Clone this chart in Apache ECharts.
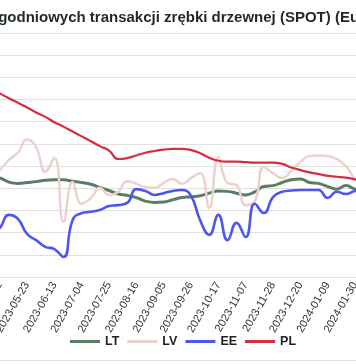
<!DOCTYPE html>
<html>
<head>
<meta charset="utf-8">
<script src="https://cdn.jsdelivr.net/npm/echarts@6/dist/echarts.min.js"></script>
<style>
html,body{margin:0;padding:0;background:#fff;overflow:hidden;width:356px;height:364px;}
#chart{position:absolute;left:-70px;top:0;width:460px;height:364px;}
#rule{position:absolute;left:0;top:360px;width:356px;height:1px;background:#e4e4e4;}
</style>
</head>
<body>
<div id="chart"></div>
<div id="rule"></div>
<script>
const titleText = 'Ceny tygodniowych transakcji zrębki drzewnej (SPOT) (Eur/MWh)';
const dates = [
  '2023-04-25','2023-05-02','2023-05-09','2023-05-16','2023-05-23','2023-05-30','2023-06-06','2023-06-13',
  '2023-06-20','2023-06-27','2023-07-04','2023-07-11','2023-07-18','2023-07-25','2023-08-01','2023-08-08',
  '2023-08-16','2023-08-22','2023-08-29','2023-09-05','2023-09-12','2023-09-19','2023-09-26','2023-10-03',
  '2023-10-10','2023-10-17','2023-10-24','2023-10-31','2023-11-07','2023-11-14','2023-11-21','2023-11-28',
  '2023-12-05','2023-12-12','2023-12-20','2023-12-28','2024-01-03','2024-01-09','2024-01-16','2024-01-23',
  '2024-01-30','2024-02-06'
];
const seriesNames = ['LT','LV','EE','PL'];
const LT = [22.5,22.3,21.4,21.1,21.3,21.5,21.8,21.9,21.9,21.6,21.3,20.9,20.2,19.5,18.7,18.4,
  17.9,17.1,16.8,16.9,17.4,17.9,18.1,18.3,18.9,19.4,19.3,18.9,18.5,19.2,20.4,20.6,
  21.3,21.9,22.1,21.3,21.1,20.4,19.8,20.6,19.8,19.4];
const LV = [22.8,24.1,26.4,28.0,31.0,29.3,23.7,26.8,12.4,21.4,16.5,17.8,20.1,18.5,19.2,21.6,
  21.0,20.3,20.1,21.2,22.1,21.0,22.3,23.4,15.6,27.0,21.2,20.7,16.2,17.1,24.8,23.4,
  22.3,23.9,25.9,27.3,27.4,27.3,26.6,25.0,22.1,20.7];
const EE = [9.5,11.0,14.0,13.1,9.7,8.3,6.8,6.3,4.5,12.8,14.4,14.7,15.1,16.0,16.2,16.7,
  19.8,19.4,18.5,18.9,19.4,19.6,18.3,12.8,9.5,14.0,8.3,12.2,9.0,16.5,14.4,18.0,
  19.2,19.5,19.6,19.6,19.6,17.8,19.2,18.7,19.4,19.6];
const PL = [42.6,41.4,40.3,39.3,38.2,37.1,36.1,34.9,33.9,32.8,31.7,30.6,29.5,28.5,26.6,26.8,
  27.4,28.0,28.4,28.7,28.9,28.9,28.6,27.9,26.9,26.2,26.0,26.0,25.9,25.8,25.8,25.8,
  25.5,24.7,24.1,23.6,23.2,22.8,22.6,22.4,22.0,21.5];
const colors = ['#5b7d66','#ebd2cd','#4c56f0','#d32f3f'];
const widths = [3,2.5,2.6,2.2];
const values = [LT, LV, EE, PL];

const chart = echarts.init(document.getElementById('chart'), null, {renderer:'canvas'});
chart.setOption({
  animation:false,
  backgroundColor:'#fff',
  title:{
    text:titleText,
    left:9, top:5,
    textStyle:{fontFamily:'Liberation Sans, Arial, sans-serif',fontSize:15,fontWeight:'bold',color:'#1e2a22'}
  },
  legend:{
    data:seriesNames,
    left:140, top:335, padding:0,
    icon:'rect',
    itemWidth:30, itemHeight:3, itemGap:8,
    textStyle:{fontFamily:'Liberation Sans, Arial, sans-serif',fontSize:12.5,fontWeight:'bold',color:'#222'}
  },
  grid:{left:60.6,right:25.9,top:33,bottom:87,containLabel:false},
  xAxis:{
    type:'category',
    data:dates,
    boundaryGap:false,
    axisLine:{lineStyle:{color:'#e0e0e0'}},
    axisTick:{show:false},
    axisLabel:{
      interval:function(i){return i%3===1;},
      rotate:60, fontSize:11, margin:6, color:'#333',
      fontFamily:'Liberation Sans, Arial, sans-serif'
    }
  },
  yAxis:{
    type:'value', min:0, max:55, interval:5,
    axisLine:{show:false}, axisTick:{show:false},
    axisLabel:{color:'#333',fontSize:11},
    splitLine:{lineStyle:{color:'#e0e0e0',width:1}}
  },
  series: seriesNames.map((n,k)=>({
    name:n, type:'line', data:values[k], smooth:0.5, symbol:'none',
    lineStyle:{color:colors[k],width:widths[k]},
    itemStyle:{color:colors[k]}
  }))
});
</script>
</body>
</html>
